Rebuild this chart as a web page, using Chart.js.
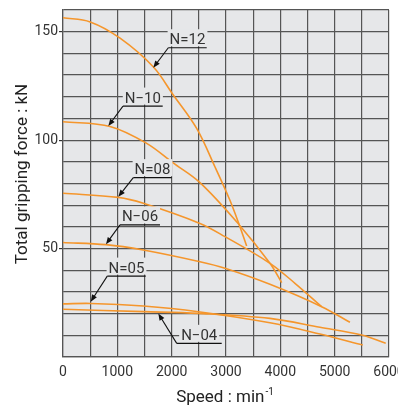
<!DOCTYPE html>
<html>
<head>
<meta charset="utf-8">
<script src="https://cdn.jsdelivr.net/npm/chart.js@4.4.1/dist/chart.umd.min.js"></script>
<style>
  html, body { margin: 0; padding: 0; background: #fff; }
  #wrap { width: 398px; height: 410px; }
</style>
</head>
<body>
<div id="wrap"><canvas id="grafico" width="398" height="410"></canvas></div>
<script>
// Speed (min-1) vs total gripping force (kN)
const n12Speed = [0, 500, 1050, 1660, 2030, 2460, 2800, 3070, 3245, 3380];
const n12Force = [156.4, 154.5, 147, 133.8, 120.8, 105.4, 87.5, 72.4, 60.9, 51.2];

const n10Speed = [0, 865, 1540, 2020, 2521, 3245, 3809, 4025];
const n10Force = [108.5, 106.3, 98.5, 89.6, 80.4, 60.9, 43.2, 34.3];

const n08Speed = [0, 1018, 1478, 2521, 2981, 3809, 4269, 4760];
const n08Force = [75.5, 73.6, 70.9, 61.6, 55.5, 43.2, 34, 23.2];

const n06Speed = [0, 791, 1478, 2521, 2981, 3809, 4760, 5281];
const n06Force = [52.8, 51.8, 49.3, 43.9, 40.9, 33.5, 23.2, 16];

const n05Speed = [0, 510, 1478, 2490, 3809, 4729, 5517];
const n05Force = [24.5, 24.7, 23.5, 20.9, 15.8, 10.6, 5.5];

const n04Speed = [0, 1478, 2490, 3809, 4729, 5496, 5940];
const n04Force = [22.0, 20.9, 20.1, 17.8, 13.7, 10.1, 6.3];

// curve labels: text, underline start/end (speed), underline height (kN), arrow tip
const labelText = ['N=12', 'N\u221210', 'N=08', 'N\u221206', 'N=05', 'N\u221204'];
const labelFromX = [1938, 1104, 1294, 1049, 815, 2093];
const labelToX = [2645, 1835, 2001, 1785, 1522, 2921];
const labelY = [142.6, 115.7, 82.7, 60.9, 37.3, 6.3];
const tipX = [1662, 834, 1018, 791, 510, 1754];
const tipY = [133.4, 106.5, 73.9, 52.0, 25.5, 20.1];

const ORANGE = '#f5962c';
const FUNDO = '#e6e7e9';
const GRADE = '#555';

function pontos(speed, force) {
    return speed.map((s, i) => ({ x: s, y: force[i] }));
}

function curva(speed, force) {
    return {
        data: pontos(speed, force),
        borderColor: ORANGE,
        borderWidth: 1.6,
        pointRadius: 0,
        tension: 0.35,
        fill: false
    };
}

const fundoPlugin = {
    id: 'fundo',
    beforeDraw(chart) {
        const { ctx, chartArea: a } = chart;
        ctx.save();
        ctx.fillStyle = FUNDO;
        ctx.fillRect(a.left, a.top, a.right - a.left, a.bottom - a.top);
        ctx.restore();
    }
};

function seta(ctx, x0, y0, x1, y1) {
    const ang = Math.atan2(y1 - y0, x1 - x0);
    const len = 7, half = 2.8;
    ctx.beginPath();
    ctx.moveTo(x0, y0);
    ctx.lineTo(x1 - Math.cos(ang) * len * 0.8, y1 - Math.sin(ang) * len * 0.8);
    ctx.stroke();
    ctx.beginPath();
    ctx.moveTo(x1, y1);
    ctx.lineTo(x1 - Math.cos(ang) * len - Math.sin(ang) * half, y1 - Math.sin(ang) * len + Math.cos(ang) * half);
    ctx.lineTo(x1 - Math.cos(ang) * len + Math.sin(ang) * half, y1 - Math.sin(ang) * len - Math.cos(ang) * half);
    ctx.closePath();
    ctx.fill();
}

const rotulosPlugin = {
    id: 'rotulos',
    afterDatasetsDraw(chart) {
        const { ctx, scales: { x, y } } = chart;
        ctx.save();
        ctx.font = '15px Roboto, "Noto Sans", sans-serif';
        ctx.textAlign = 'center';
        ctx.textBaseline = 'alphabetic';
        labelText.forEach((txt, i) => {
            const x0 = x.getPixelForValue(labelFromX[i]);
            const x1 = x.getPixelForValue(labelToX[i]);
            const yl = y.getPixelForValue(labelY[i]);
            const tx = x.getPixelForValue(tipX[i]);
            const ty = y.getPixelForValue(tipY[i]);
            const cx = (x0 + x1) / 2;
            const base = yl - 3.5;
            const w = ctx.measureText(txt).width;
            ctx.fillStyle = FUNDO;
            ctx.fillRect(cx - w / 2 - 2, base - 15, w + 4, 17);
            ctx.fillStyle = '#333';
            ctx.fillText(txt, cx, base);
            ctx.strokeStyle = '#111';
            ctx.fillStyle = '#111';
            ctx.lineWidth = 1.1;
            ctx.beginPath();
            ctx.moveTo(x0, yl);
            ctx.lineTo(x1, yl);
            ctx.stroke();
            seta(ctx, x0, yl, tx, ty);
        });
        ctx.restore();
    }
};

const titulosPlugin = {
    id: 'titulos',
    afterDraw(chart) {
        const ctx = chart.ctx;
        ctx.save();
        ctx.fillStyle = '#222';
        ctx.font = '17px Roboto, "Noto Sans", sans-serif';
        ctx.textBaseline = 'alphabetic';
        // y title
        ctx.save();
        ctx.translate(27, 174);
        ctx.rotate(-Math.PI / 2);
        ctx.textAlign = 'center';
        ctx.fillText('Total gripping force : kN', 0, 0);
        ctx.restore();
        // x title with superscript
        const main = 'Speed : min';
        const sup = '-1';
        const wMain = ctx.measureText(main).width;
        ctx.font = '10px Roboto, "Noto Sans", sans-serif';
        const wSup = ctx.measureText(sup).width;
        const start = 225 - (wMain + wSup + 1) / 2;
        ctx.textAlign = 'left';
        ctx.font = '17px Roboto, "Noto Sans", sans-serif';
        ctx.fillText(main, start, 402);
        ctx.font = '10px Roboto, "Noto Sans", sans-serif';
        ctx.fillText(sup, start + wMain + 1, 395);
        ctx.restore();
    }
};

const grafico = new Chart(document.getElementById('grafico'), {
    type: 'line',
    data: {
        datasets: [
            curva(n12Speed, n12Force),
            curva(n10Speed, n10Force),
            curva(n08Speed, n08Force),
            curva(n06Speed, n06Force),
            curva(n05Speed, n05Force),
            curva(n04Speed, n04Force)
        ]
    },
    options: {
        responsive: false,
        animation: false,
        devicePixelRatio: 1,
        layout: { padding: { left: 0, right: 9, top: 10, bottom: 0 } },
        plugins: { legend: { display: false }, tooltip: { enabled: false } },
        scales: {
            x: {
                type: 'linear',
                min: 0,
                max: 6000,
                afterFit(s) { s.height = 53; s.paddingLeft = 0; s.paddingRight = 0; },
                border: { display: true, color: GRADE, width: 1.2 },
                grid: { color: GRADE, lineWidth: 1.2, drawTicks: false },
                ticks: {
                    stepSize: 500,
                    autoSkip: false,
                    maxRotation: 0,
                    padding: 7,
                    color: '#333',
                    font: { family: 'Roboto, "Noto Sans", sans-serif', size: 14 },
                    callback: v => (v % 1000 === 0 ? v : '')
                }
            },
            y: {
                min: 0,
                max: 160,
                afterFit(s) { s.width = 63; s.paddingTop = 0; s.paddingBottom = 0; },
                border: { display: true, color: GRADE, width: 1.2 },
                grid: {
                    color: GRADE,
                    lineWidth: 1.2,
                    tickLength: 4,
                    tickColor: c => (c.tick && c.tick.value % 50 === 0 && c.tick.value > 0 ? '#333' : 'rgba(0,0,0,0)')
                },
                ticks: {
                    stepSize: 10,
                    autoSkip: false,
                    padding: 1,
                    color: '#333',
                    font: { family: 'Roboto, "Noto Sans", sans-serif', size: 14 },
                    callback: v => (v % 50 === 0 && v > 0 ? v : '')
                }
            }
        }
    },
    plugins: [fundoPlugin, rotulosPlugin, titulosPlugin]
});
</script>
</body>
</html>
